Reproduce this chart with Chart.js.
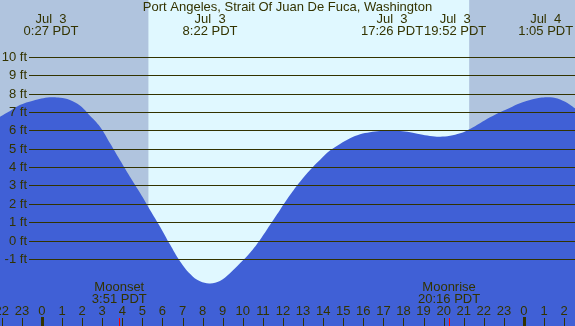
<!DOCTYPE html>
<html>
<head>
<meta charset="utf-8">
<script src="https://cdn.jsdelivr.net/npm/chart.js@4/dist/chart.umd.min.js"></script>
<style>
  html, body { margin: 0; padding: 0; background: #b0c4de; }
  #wrap { width: 575px; height: 326px; }
</style>
</head>
<body>
<div id="wrap"><canvas id="tide-chart"></canvas></div>
<script>
// Data (hours since Jul 3 00:00 PDT, height in ft)
const tideHours = [-2.09, -1.59, -1.10, -0.45, 0.40, 0.90, 1.39, 1.89, 2.39, 2.89, 3.39, 3.88, 4.38, 4.88, 5.38, 5.88, 6.37, 6.87, 7.37, 7.87, 8.37, 8.86, 9.36, 9.86, 10.36, 10.86, 11.35, 11.85, 12.35, 12.85, 13.35, 13.84, 14.34, 14.84, 15.34, 15.84, 16.33, 16.83, 17.33, 17.83, 18.33, 18.82, 19.32, 19.82, 20.32, 20.82, 21.31, 21.81, 22.31, 22.81, 23.31, 23.80, 24.30, 24.80, 25.30, 25.80, 26.29, 26.54];
const tideHeights = [6.75, 7.06, 7.38, 7.62, 7.8, 7.78, 7.66, 7.35, 6.8, 6.2, 5.3, 4.39, 3.48, 2.6, 1.67, 0.76, -0.2, -1.12, -1.8, -2.22, -2.33, -2.2, -1.78, -1.24, -0.66, 0.05, 0.85, 1.67, 2.48, 3.21, 3.85, 4.39, 4.9, 5.26, 5.57, 5.79, 5.9, 5.97, 6.0, 5.97, 5.9, 5.79, 5.7, 5.66, 5.71, 5.84, 6.08, 6.39, 6.71, 6.99, 7.24, 7.48, 7.66, 7.78, 7.8, 7.68, 7.4, 7.2];

const yTicks = [-1, 0, 1, 2, 3, 4, 5, 6, 7, 8, 9, 10];
const hourTicks = [-2, -1, 0, 1, 2, 3, 4, 5, 6, 7, 8, 9, 10, 11, 12, 13, 14, 15, 16, 17, 18, 19, 20, 21, 22, 23, 24, 25, 26];
const hourLabels = ["22", "23", "0", "1", "2", "3", "4", "5", "6", "7", "8", "9", "10", "11", "12", "13", "14", "15", "16", "17", "18", "19", "20", "21", "22", "23", "0", "1", "2"];

const eventHours = [0.45, 8.37, 17.43, 19.87, 25.08];
const eventDates = ["Jul  3", "Jul  3", "Jul  3", "Jul  3", "Jul  4"];
const eventTimes = ["0:27 PDT", "8:22 PDT", "17:26 PDT", "19:52 PDT", "1:05 PDT"];

const moonHours = [3.85, 20.27];
const moonNames = ["Moonset", "Moonrise"];
const moonTimes = ["3:51 PDT", "20:16 PDT"];

const sunrise = 5.3;
const sunset = 21.27;
const title = "Port Angeles, Strait Of Juan De Fuca, Washington";

const textColor = "#333300";
const font = '13px "Liberation Sans", Arial, sans-serif';

const tidePlugin = {
  id: "tideDecor",
  beforeDatasetsDraw(chart) {
    const { ctx, chartArea, scales } = chart;
    const x = scales.x;
    const xr = x.getPixelForValue(sunrise);
    const xs = x.getPixelForValue(sunset);
    ctx.save();
    ctx.fillStyle = "#b0c4de";
    ctx.fillRect(chartArea.left, chartArea.top, chartArea.width, chartArea.height);
    ctx.fillStyle = "#e0f8ff";
    ctx.fillRect(xr, chartArea.top, xs - xr, chartArea.height);
    ctx.restore();
  },
  afterDatasetsDraw(chart) {
    const { ctx, chartArea, scales } = chart;
    const x = scales.x;
    const y = scales.y;
    ctx.save();
    ctx.font = font;
    ctx.fillStyle = textColor;

    // horizontal lines + ft labels
    ctx.strokeStyle = "#333300";
    ctx.lineWidth = 1;
    ctx.textAlign = "right";
    ctx.textBaseline = "middle";
    yTicks.forEach((v) => {
      const py = Math.round(y.getPixelForValue(v)) + 0.5;
      ctx.beginPath();
      ctx.moveTo(29, py);
      ctx.lineTo(chartArea.right, py);
      ctx.stroke();
      ctx.fillText(v + " ft", 27, py);
    });

    // title
    ctx.textAlign = "center";
    ctx.fillText(title, (chartArea.left + chartArea.right) / 2, 7);

    // high / low labels
    let prevRight = -1000;
    eventHours.forEach((h, i) => {
      const w = Math.max(ctx.measureText(eventTimes[i]).width, ctx.measureText(eventDates[i]).width);
      let cx = x.getPixelForValue(h);
      if (cx - w / 2 < prevRight + 1) cx = prevRight + 1 + w / 2;
      ctx.fillText(eventDates[i], cx, 19);
      ctx.fillText(eventTimes[i], cx, 31);
      prevRight = cx + w / 2;
    });

    // moon labels
    moonHours.forEach((h, i) => {
      const cx = x.getPixelForValue(h);
      ctx.fillText(moonNames[i], cx, 287);
      ctx.fillText(moonTimes[i], cx, 299);
      ctx.fillStyle = "#ff0000";
      ctx.fillRect(Math.round(cx), 318, 1, 8);
      ctx.fillStyle = textColor;
    });

    // hour labels + ticks
    hourTicks.forEach((h, i) => {
      const px = x.getPixelForValue(h);
      ctx.fillText(hourLabels[i], px, 311);
      if (hourLabels[i] === "0") {
        ctx.fillRect(Math.round(px) - 1, 317, 3, 9);
      } else {
        ctx.fillRect(Math.round(px), 318, 1, 8);
      }
    });
    ctx.restore();
  },
};

const tideCanvas = document.getElementById("tide-chart");

new Chart(tideCanvas, {
  type: "line",
  data: {
    datasets: [
      {
        data: tideHours.map((h, i) => ({ x: h, y: tideHeights[i] })),
        borderWidth: 0,
        pointRadius: 0,
        fill: "start",
        backgroundColor: "#4060d6",
        tension: 0.4,
      },
    ],
  },
  options: {
    responsive: true,
    maintainAspectRatio: false,
    animation: false,
    layout: { padding: 0 },
    plugins: {
      legend: { display: false },
      tooltip: { enabled: false },
    },
    scales: {
      x: { type: "linear", min: -2.09, max: 26.54, display: false },
      y: { min: -4.65, max: 13.1, display: false },
    },
  },
  plugins: [tidePlugin],
});
</script>
</body>
</html>
